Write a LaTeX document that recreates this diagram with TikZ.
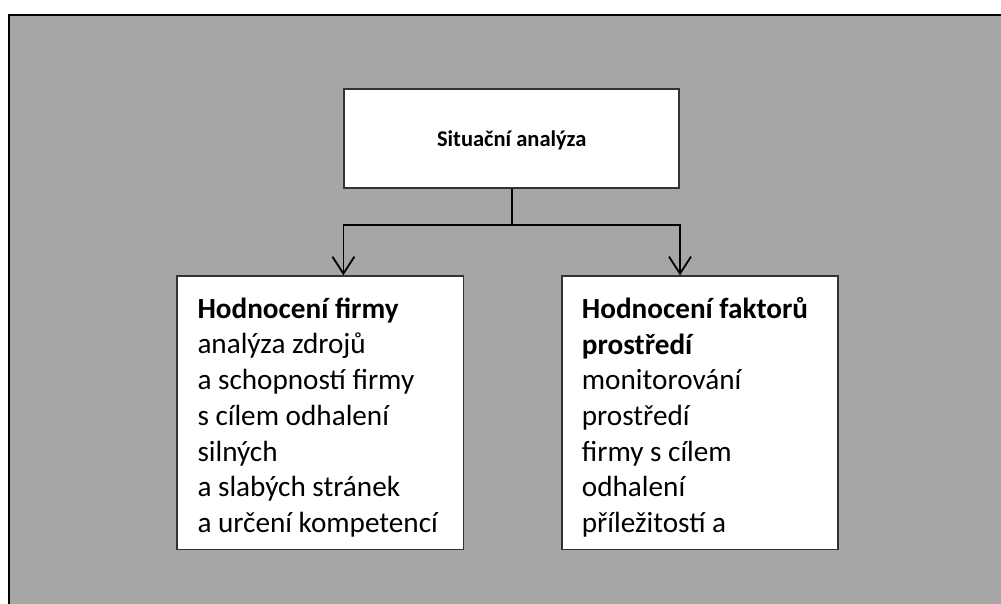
\documentclass[tikz,border=0pt]{standalone}
\usepackage{fontspec}
\setmainfont{Carlito}
\usetikzlibrary{arrows.meta}
\definecolor{bggray}{HTML}{A6A6A6}
\definecolor{boxline}{HTML}{333333}
\begin{document}
\begin{tikzpicture}[x=1pt,y=-1pt,
  box/.style={draw=boxline, line width=1.6pt, fill=white, rectangle, inner sep=0pt},
  conn/.style={line width=1.8pt, draw=black},
  tipped/.style={-{Straight Barb[length=17pt,width=22pt,line width=1.8pt]}},
  body/.style={font=\fontsize{29.2}{35.7}\selectfont, align=left, inner sep=0pt, anchor=north west}]
\useasboundingbox (0,0) rectangle (1001,604);
\clip (0,0) rectangle (1001,604);
\fill[white] (0,0) rectangle (1001,604);
\draw[fill=bggray, draw=black, line width=2pt] (8.5,15) rectangle (1012,616);
\node[box, minimum width=335pt, minimum height=99pt, text depth=0pt, font=\bfseries\fontsize{22.5}{27}\selectfont] (top) at (511.7,138.8) {Situační analýza};
\node[box, anchor=north west, minimum width=286.7pt, minimum height=273.4pt] (lbox) at (176,275.3) {};
\node[box, anchor=north west, minimum width=276.3pt, minimum height=273.4pt] (rbox) at (561,275.3) {};
\node[body] (ltext) at (197.3,297.5) {\textbf{Hodnocení firmy}\\analýza zdrojů\\a schopností firmy\\s cílem odhalení\\silných\\a slabých stránek\\a určení kompetencí};
\node[body] (rtext) at (581.7,297) {\textbf{Hodnocení faktorů}\\\textbf{prostředí}\\monitorování\\prostředí\\firmy s cílem\\odhalení\\příležitostí a};
\coordinate (split) at (511.7,225);
\draw[conn] (top.south) -- (split);
\draw[conn, tipped] (split) -| (top.west |- lbox.north);
\draw[conn, tipped] (split) -| (top.east |- rbox.north);
\end{tikzpicture}
\end{document}
